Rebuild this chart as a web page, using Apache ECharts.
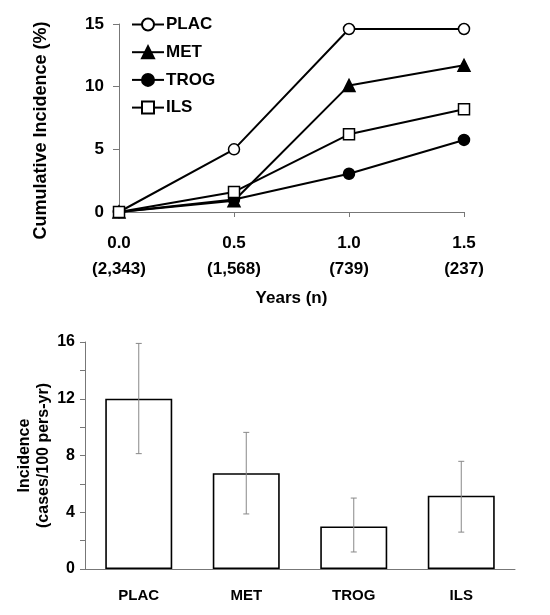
<!DOCTYPE html>
<html><head><meta charset="utf-8">
<script src="https://cdn.jsdelivr.net/npm/echarts@6/dist/echarts.min.js"></script>
<style>html,body{margin:0;padding:0;background:#fff}#c{width:550px;height:615px}</style>
</head><body><div id="c"></div>
<script>
// ---- Data ----
const years = [0, 0.5, 1.0, 1.5];
const yearCounts = ['2,343', '1,568', '739', '237'];
const seriesNames = ['PLAC', 'MET', 'TROG', 'ILS'];
const placCum = [0, 5.0, 14.6, 14.6];
const metCum = [0, 0.9, 10.1, 11.7];
const trogCum = [0, 1.0, 3.05, 5.75];
const ilsCum = [0, 1.6, 6.2, 8.2];

const barCategories = ['PLAC', 'MET', 'TROG', 'ILS'];
const incidence = [12.0, 6.75, 3.0, 5.17];
const ciLow = [8.13, 3.88, 1.2, 2.6];
const ciHigh = [15.9, 9.63, 5.0, 7.59];

const FONT = 'Liberation Sans, Arial, sans-serif';
const chart = echarts.init(document.getElementById('c'));

function pts(vals){ return years.map((x,i)=>[x, vals[i]]); }
const markerDefs = [
  {symbol:'circle', size:11, fill:'#fff'},
  {symbol:'triangle', size:12, fill:'#000'},
  {symbol:'circle', size:11, fill:'#000'},
  {symbol:'rect', size:11, fill:'#fff'}
];
const cumData = [placCum, metCum, trogCum, ilsCum];

const lineSeries = seriesNames.map((n,i)=>({
  name:n, type:'line', xAxisIndex:0, yAxisIndex:0,
  data:pts(cumData[i]),
  symbol:markerDefs[i].symbol, symbolSize:markerDefs[i].size,
  lineStyle:{color:'#000', width:2},
  itemStyle:{color:markerDefs[i].fill, borderColor:'#000', borderWidth:1.5, opacity:1},
  emphasis:{disabled:true}, animation:false, z:2+i
}));

const option = {
  backgroundColor:'#fff',
  animation:false,
  textStyle:{fontFamily:FONT},
  legend:{
    orient:'vertical', left:126, top:11,
    itemWidth:32, itemHeight:15, itemGap:10.7,
    data:seriesNames,
    textStyle:{fontFamily:FONT, fontWeight:'bold', fontSize:17, color:'#000', padding:[0,0,0,-3]}
  },
  grid:[
    {left:119, right:86, top:24, height:188, containLabel:false, outerBoundsMode:'none'},
    {left:85, right:35, top:342, height:227, containLabel:false, outerBoundsMode:'none'}
  ],
  xAxis:[
    {type:'value', gridIndex:0, min:0, max:1.5, interval:0.5,
     name:'Years (n)', nameLocation:'middle', nameGap:78,
     nameTextStyle:{fontFamily:FONT, fontWeight:'bold', fontSize:17, color:'#000'},
     axisLine:{show:true, onZero:false, lineStyle:{color:'#777', width:1}},
     axisTick:{show:true, length:5, lineStyle:{color:'#777'}},
     splitLine:{show:false},
     axisLabel:{margin:18, lineHeight:26, fontFamily:FONT, fontWeight:'bold', fontSize:17, color:'#000',
       formatter:(v)=>{const i=years.indexOf(v); return v.toFixed(1)+'\n('+(i>=0?yearCounts[i]:'')+')';}}
    },
    {type:'category', gridIndex:1, data:barCategories,
     axisLine:{show:true, lineStyle:{color:'#777', width:1}},
     axisTick:{show:false},
     axisLabel:{margin:19, fontFamily:FONT, fontWeight:'bold', fontSize:15, color:'#000'}
    }
  ],
  yAxis:[
    {type:'value', gridIndex:0, min:0, max:15, interval:5,
     name:'Cumulative Incidence (%)', nameLocation:'middle', nameGap:69, nameRotate:90,
     nameTextStyle:{fontFamily:FONT, fontWeight:'bold', fontSize:18, color:'#000', padding:[0,25,0,0]},
     axisLine:{show:true, lineStyle:{color:'#777', width:1}},
     axisTick:{show:true, inside:false, length:6, lineStyle:{color:'#777'}},
     splitLine:{show:false},
     axisLabel:{margin:15, fontFamily:FONT, fontWeight:'bold', fontSize:17, color:'#000'}
    },
    {type:'value', gridIndex:1, min:0, max:16, interval:4,
     name:'Incidence\n(cases/100 pers-yr)', nameLocation:'middle', nameGap:32, nameRotate:90,
     nameMoveOverlap:false,
     nameTextStyle:{fontFamily:FONT, fontWeight:'bold', fontSize:16, color:'#000', lineHeight:19},
     axisLine:{show:true, lineStyle:{color:'#777', width:1}},
     axisTick:{show:true, length:5, lineStyle:{color:'#777'}},
     minorTick:{show:true, splitNumber:2, length:5, lineStyle:{color:'#777'}},
     splitLine:{show:false},
     axisLabel:{margin:10, fontFamily:FONT, fontWeight:'bold', fontSize:16, color:'#000'}
    }
  ],
  series: lineSeries.concat([
    {type:'bar', xAxisIndex:1, yAxisIndex:1, data:incidence, barWidth:67,
     itemStyle:{color:'#fff', borderColor:'#000', borderWidth:1.6},
     emphasis:{disabled:true}, z:2},
    {type:'custom', xAxisIndex:1, yAxisIndex:1, z:5,
     data:barCategories.map((c,i)=>[i, ciLow[i], ciHigh[i]]),
     renderItem:function(params, api){
       const lo = api.coord([api.value(0), api.value(1)]);
       const hi = api.coord([api.value(0), api.value(2)]);
       const x = lo[0], w = 3;
       const st = {stroke:'#888', lineWidth:1};
       return {type:'group', children:[
         {type:'line', shape:{x1:x, y1:lo[1], x2:x, y2:hi[1]}, style:st},
         {type:'line', shape:{x1:x-w, y1:lo[1], x2:x+w, y2:lo[1]}, style:st},
         {type:'line', shape:{x1:x-w, y1:hi[1], x2:x+w, y2:hi[1]}, style:st}
       ]};
     }}
  ])
};
chart.setOption(option);
</script></body></html>
